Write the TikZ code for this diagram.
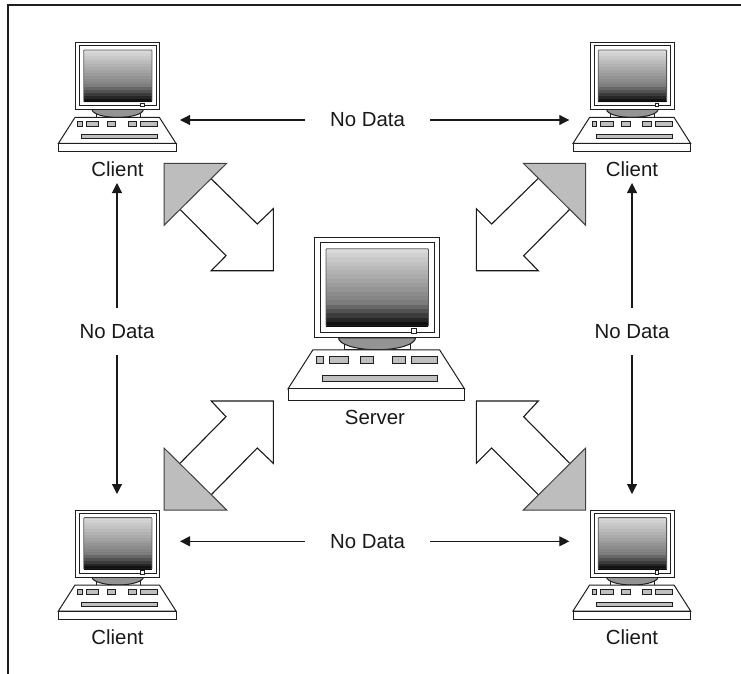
\documentclass[tikz,border=0pt]{standalone}
\usepackage{fontspec}
\setmainfont{Liberation Sans}
\usetikzlibrary{arrows.meta}
\tikzset{
  ink/.style={draw=black!88,line width=1pt},
  lbl/.style={inner sep=0pt,font=\fontsize{20.4}{24}\selectfont,text=black!90},
  hlabel/.style={lbl,minimum width=125pt,minimum height=20pt},
  vlabel/.style={lbl,minimum width=76pt,minimum height=47pt},
  conn/.style={draw=black!90,line width=1.1pt,-{Triangle[length=10pt,width=10pt]}},
  tri/.style={draw=black!75,line width=1pt,fill=black!26,line join=miter},
  fat/.style={draw=black!90,line width=1.1pt,fill=white,line join=miter},
  panel/.style={draw=black!88,line width=1pt,fill=black!25},
  pics/computer/.style={code={
    \draw[ink,fill=white] (20.3,66.7) rectangle (64.3,74.7);
    \draw[ink,fill=black!42] (16.3,66.7) arc[start angle=180,end angle=0,x radius=25.7,y radius=8] -- cycle;
    \draw[ink,fill=white] (0,0) rectangle (83.7,66.7);
    \draw[ink,fill=white] (4,3.3) rectangle (80.3,63.3);
    \foreach \i in {0,...,17}{
      \pgfmathsetmacro{\shade}{15+\i*3+(\i>12)*(\i-12)*5.5}
      \fill[black!\shade] (8,7.3+\i*2.87) rectangle (76.3,59);
    }
    \draw[black!65,line width=.8pt,rounded corners=.8pt] (8,7.3) rectangle (76.3,59);
    \draw[black!95,line width=.8pt] (8,59) -- (76.3,59);
    \draw[ink,fill=white,line width=.9pt] (65,60.3) rectangle (68.3,63.7);
    \draw[ink,fill=white,line join=miter] (-.7,74.7) -- (83.7,74.7) -- (100.3,100.7) -- (-17.3,100.7) -- cycle;
    \draw[ink,fill=white] (-17.3,100.7) rectangle (100.3,108.7);
    \draw[panel] (1.7,79) rectangle (6.3,84);
    \draw[panel] (10.3,79) rectangle (23,84);
    \draw[panel] (31.3,79) rectangle (39.7,84);
    \draw[panel] (52.3,79) rectangle (61,84);
    \draw[panel] (64.7,79) rectangle (82,84);
    \draw[panel] (5.7,92) rectangle (82,96);
  }}
}
\begin{document}
\begin{tikzpicture}[x=1pt,y=-1pt]
\useasboundingbox (0,0) rectangle (741,674);
\fill[white] (0,0) rectangle (741,674);
\draw[draw=black!88,line width=2pt] (7.7,674) -- (7.7,5.5) -- (741,5.5);

\pic at (75.7,42.7) {computer};
\pic at (590.3,42.7) {computer};
\pic at (75.7,510.3) {computer};
\pic at (590.3,510.3) {computer};
\pic[scale=1.5] at (314,237.7) {computer};

\node[lbl] (c1) at (117.5,169) {Client};
\node[lbl] (c2) at (632,169) {Client};
\node[lbl] (c3) at (117.5,637) {Client};
\node[lbl] (c4) at (632,637) {Client};
\node[lbl] (srv) at (375,417.7) {Server};

\node[hlabel] (ntop) at (367.5,120) {No Data};
\node[hlabel] (nbot) at (367.5,541.3) {No Data};
\node[vlabel] (nleft) at (117,331.5) {No Data};
\node[vlabel] (nright) at (632,331.5) {No Data};

\coordinate (t1l) at (180,120);
\coordinate (t1r) at (569.3,120);
\coordinate (t2l) at (180,541.3);
\coordinate (t2r) at (569.3,541.3);
\coordinate (l1u) at (117,183);
\coordinate (l1d) at (117,494);
\coordinate (r1u) at (632,183);
\coordinate (r1d) at (632,494);

\draw[conn] (ntop.west) -- (t1l);
\draw[conn] (ntop.east) -- (t1r);
\draw[conn] (nbot.west) -- (t2l);
\draw[conn] (nbot.east) -- (t2r);
\draw[conn] (nleft.north) -- (l1u);
\draw[conn] (nleft.south) -- (l1d);
\draw[conn] (nright.north) -- (r1u);
\draw[conn] (nright.south) -- (r1d);

% top left
\draw[fat] (210.7,178.3) -- (257.3,224) -- (273.3,208.7) -- (273.3,270.7) -- (211.3,270.7) -- (226,255.7) -- (180,209.3);
\draw[tri] (164,163.3) -- (226.7,163.3) -- (164,225.3) -- cycle;
% top right
\draw[fat] (538.3,178.3) -- (491.7,224) -- (476.3,208.7) -- (476.3,270.7) -- (538.3,270.7) -- (523.7,255.7) -- (569.7,209.3);
\draw[tri] (523.3,163.3) -- (585.7,163.3) -- (585.7,225.3) -- cycle;
% bottom left
\draw[fat] (180,463.3) -- (226,416.7) -- (211.3,401) -- (273.3,401) -- (273.3,463.3) -- (257.3,448) -- (211.3,494.7);
\draw[tri] (164,448) -- (164,510) -- (226.7,510) -- cycle;
% bottom right
\draw[fat] (569.7,463.3) -- (523.7,416.7) -- (538.3,401) -- (476.3,401) -- (476.3,463.3) -- (491.7,448) -- (538.3,494.7);
\draw[tri] (585.7,448) -- (585.7,510) -- (523.3,510) -- cycle;
\end{tikzpicture}
\end{document}
